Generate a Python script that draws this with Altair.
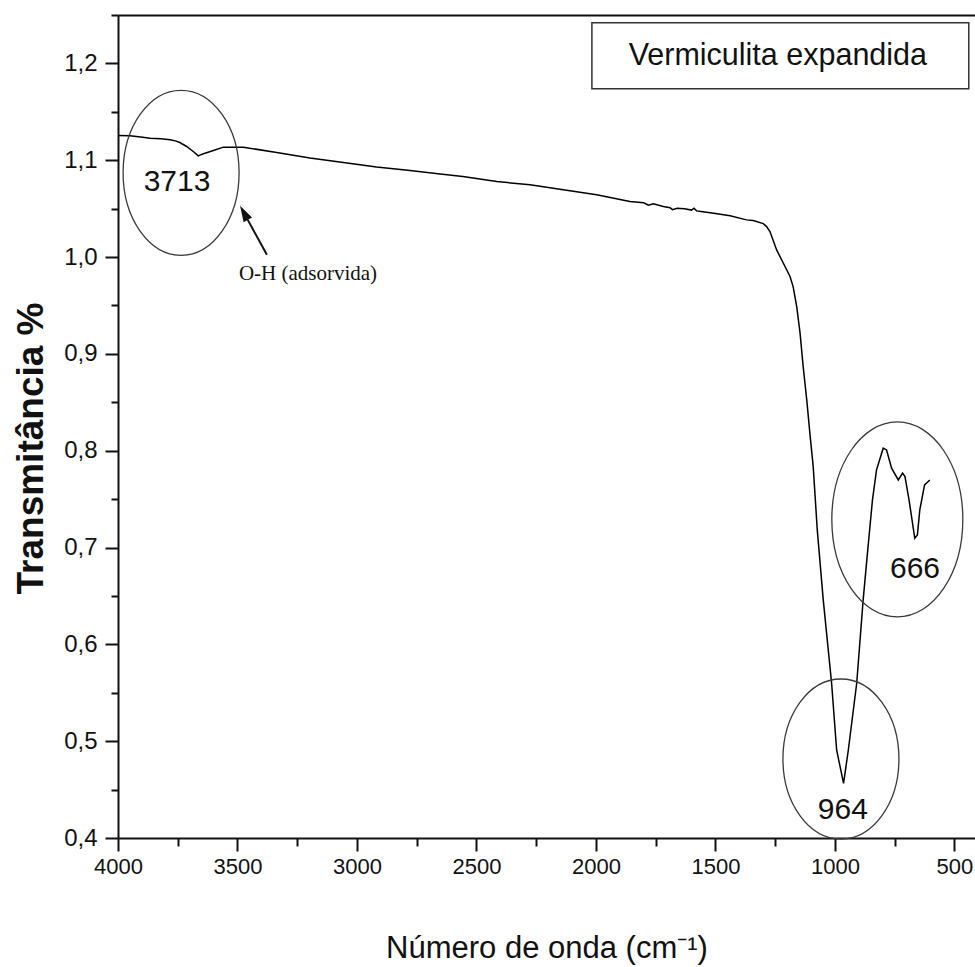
import altair as alt
import pandas as pd

# FTIR spectrum of expanded vermiculite (wavenumber in cm-1, transmittance)
wavenumber = [
    4000, 3950, 3905, 3866, 3820, 3782, 3760, 3741, 3713, 3685, 3664, 3650,
    3636, 3620, 3601, 3559, 3476, 3336, 3197, 3057, 2918, 2778, 2661, 2557,
    2415, 2276, 2137, 1997, 1858, 1800, 1780, 1760, 1718, 1690, 1680, 1660,
    1630, 1600, 1590, 1579, 1560, 1530, 1500, 1439, 1370, 1342, 1300, 1286,
    1272, 1244, 1188, 1175, 1160, 1146, 1133, 1118, 1105, 1091, 1074, 1049,
    1014, 993, 964, 944, 909, 882, 862, 843, 826, 798, 784, 763, 735, 717,
    707, 690, 666, 655, 645, 625, 603,
]
transmittance = [
    1.1255, 1.1252, 1.1240, 1.1228, 1.1222, 1.1211, 1.1200, 1.1183, 1.1142,
    1.1090, 1.1045, 1.1060, 1.1073, 1.1085, 1.1100, 1.1135, 1.1135, 1.1080,
    1.1022, 1.0976, 1.0929, 1.0894, 1.0860, 1.0832, 1.0780, 1.0746, 1.0694,
    1.0643, 1.0573, 1.0560, 1.0535, 1.0550, 1.0522, 1.0510, 1.0490, 1.0505,
    1.0500, 1.0485, 1.0505, 1.0477, 1.0470, 1.0460, 1.0450, 1.0426, 1.0384,
    1.0377, 1.0345, 1.0315, 1.0263, 1.0074, 0.9799, 0.9695, 0.9489, 0.9214,
    0.8869, 0.8525, 0.8181, 0.7836, 0.7182, 0.6459, 0.5598, 0.4909, 0.4565,
    0.4909, 0.5598, 0.6459, 0.6996, 0.7492, 0.7802, 0.8026, 0.8008, 0.7819,
    0.7698, 0.7768, 0.7732, 0.7492, 0.7096, 0.7130, 0.7388, 0.7647, 0.7698,
]

# Band labels and the ellipses drawn around them
band_labels = ["3713", "964", "666"]
band_label_x = [3753, 967, 665]
band_label_y = [1.0777, 0.4289, 0.6779]
ellipse_x = [3736, 975, 739]
ellipse_y = [1.087, 0.4816, 0.729]
ellipse_rx = [58, 58, 65.5]
ellipse_ry = [82.5, 80, 97.5]

# O-H note with arrow
note_text = "O-H (adsorvida)"
note_x, note_y = 3205, 0.9826
arrow_tail = (3377, 1.0023)
arrow_base = (3457, 1.0384)
arrow_head = (3473, 1.0457)

# Sample name box
sample_name = "Vermiculita expandida"
box_x = (2017, 440)
box_y = (1.1738, 1.242)
box_text = (1239, 1.2079)

x_major = [4000, 3500, 3000, 2500, 2000, 1500, 1000, 500]
x_minor = [3750, 3250, 2750, 2250, 1750, 1250, 750]
y_major = [0.4, 0.5, 0.6, 0.7, 0.8, 0.9, 1.0, 1.1, 1.2]
y_minor = [0.45, 0.55, 0.65, 0.75, 0.85, 0.95, 1.05, 1.15, 1.25]

X_DOMAIN = [4000, 414]
Y_DOMAIN = [0.4, 1.25]
SANS = "Liberation Sans, Arial"
SERIF = "Liberation Serif, Times New Roman"
INK = "#111111"

xs = alt.Scale(domain=X_DOMAIN, nice=False, zero=False)
ys = alt.Scale(domain=Y_DOMAIN, nice=False, zero=False)

spec = pd.DataFrame({"w": wavenumber, "t": transmittance})

x_axis = alt.Axis(
    values=x_major, format="d", title="Número de onda (cm⁻¹)",
    labelFont=SANS, labelFontSize=22, labelColor=INK, labelPadding=5,
    labelFlush=False, labelOverlap=False,
    titleFont=SANS, titleFontSize=31, titleFontWeight="normal", titleColor=INK,
    titleBaseline="alphabetic", titleY=119,
    tickSize=13, tickWidth=2, tickColor=INK, domainWidth=2, domainColor=INK,
    grid=False,
)
y_axis = alt.Axis(
    values=y_major, title="Transmitância %",
    labelExpr="replace(format(datum.value, '.1f'), '.', ',')",
    labelFont=SANS, labelFontSize=24, labelColor=INK, labelPadding=8,
    labelFlush=False, labelOverlap=False,
    titleFont=SANS, titleFontSize=37, titleFontWeight="bold", titleColor=INK,
    titleAngle=270, titleAlign="center", titleBaseline="alphabetic",
    titleX=-76, titleY=433,
    tickSize=13, tickWidth=2, tickColor=INK, domainWidth=2, domainColor=INK,
    grid=False,
)

line = alt.Chart(spec).mark_line(color="black", strokeWidth=1.5).encode(
    x=alt.X("w:Q", scale=xs, axis=x_axis),
    y=alt.Y("t:Q", scale=ys, axis=y_axis),
)

# Minor ticks on both axes, plus the top frame line
minor_df = pd.DataFrame({"w": [X_DOMAIN[0]], "t": [Y_DOMAIN[0]]})
minor = alt.Chart(minor_df).mark_point(opacity=0).encode(
    x=alt.X("w:Q", scale=xs, axis=alt.Axis(
        orient="bottom", values=x_minor, labels=False, title=None, domain=False,
        tickSize=8, tickWidth=2, tickColor=INK, grid=False)),
    y=alt.Y("t:Q", scale=ys, axis=alt.Axis(
        orient="left", values=y_minor, labels=False, title=None, domain=False,
        tickSize=7, tickWidth=2, tickColor=INK, grid=False)),
)
top_frame = alt.Chart(minor_df).mark_point(opacity=0).encode(
    x=alt.X("w:Q", scale=xs, axis=alt.Axis(
        orient="top", labels=False, ticks=False, title=None, domainWidth=2,
        domainColor=INK, grid=False)),
    y=alt.Y("t:Q", scale=ys, axis=None),
)


def ellipse_path(r):
    k = 0.5523
    a = r
    return (
        f"M {a} 0 C {a} {k} {a*k:.4f} 1 0 1 C {-a*k:.4f} 1 {-a} {k} {-a} 0 "
        f"C {-a} {-k} {-a*k:.4f} -1 0 -1 C {a*k:.4f} -1 {a} {-k} {a} 0 Z"
    )


layers = [line, minor, top_frame]

for cx, cy, rx, ry in zip(ellipse_x, ellipse_y, ellipse_rx, ellipse_ry):
    edf = pd.DataFrame({"w": [cx], "t": [cy]})
    layers.append(
        alt.Chart(edf).mark_point(
            shape=ellipse_path(rx / ry), size=(2 * ry) ** 2, filled=False,
            stroke="#3a3a3a", strokeWidth=1.3, opacity=1,
        ).encode(
            x=alt.X("w:Q", scale=xs, axis=None),
            y=alt.Y("t:Q", scale=ys, axis=None),
        )
    )

band_df = pd.DataFrame({"w": band_label_x, "t": band_label_y, "label": band_labels})
layers.append(
    alt.Chart(band_df).mark_text(
        font=SANS, fontSize=30, color=INK, align="center", baseline="middle"
    ).encode(
        x=alt.X("w:Q", scale=xs, axis=None),
        y=alt.Y("t:Q", scale=ys, axis=None),
        text="label:N",
    )
)

arrow_df = pd.DataFrame({
    "w": [arrow_tail[0]], "t": [arrow_tail[1]],
    "w2": [arrow_base[0]], "t2": [arrow_base[1]],
})
layers.append(
    alt.Chart(arrow_df).mark_rule(color=INK, strokeWidth=2).encode(
        x=alt.X("w:Q", scale=xs, axis=None),
        y=alt.Y("t:Q", scale=ys, axis=None),
        x2="w2:Q", y2="t2:Q",
    )
)
head_df = pd.DataFrame({"w": [arrow_head[0]], "t": [arrow_head[1]]})
layers.append(
    alt.Chart(head_df).mark_point(
        shape="M 0 -1 L 0.6 1 L -0.6 1 Z", size=256, filled=True,
        color=INK, opacity=1, angle=331,
    ).encode(
        x=alt.X("w:Q", scale=xs, axis=None),
        y=alt.Y("t:Q", scale=ys, axis=None),
    )
)

note_df = pd.DataFrame({"w": [note_x], "t": [note_y], "label": [note_text]})
layers.append(
    alt.Chart(note_df).mark_text(
        font=SERIF, fontSize=21, color=INK, align="center", baseline="middle"
    ).encode(
        x=alt.X("w:Q", scale=xs, axis=None),
        y=alt.Y("t:Q", scale=ys, axis=None),
        text="label:N",
    )
)

box_df = pd.DataFrame({
    "w": [box_x[0]], "w2": [box_x[1]], "t": [box_y[0]], "t2": [box_y[1]],
})
layers.append(
    alt.Chart(box_df).mark_rect(fill="white", stroke="#333333", strokeWidth=1.5).encode(
        x=alt.X("w:Q", scale=xs, axis=None),
        y=alt.Y("t:Q", scale=ys, axis=None),
        x2="w2:Q", y2="t2:Q",
    )
)
name_df = pd.DataFrame({"w": [box_text[0]], "t": [box_text[1]], "label": [sample_name]})
layers.append(
    alt.Chart(name_df).mark_text(
        font=SANS, fontSize=30.5, color=INK, align="center", baseline="middle"
    ).encode(
        x=alt.X("w:Q", scale=xs, axis=None),
        y=alt.Y("t:Q", scale=ys, axis=None),
        text="label:N",
    )
)

chart = (
    alt.layer(*layers)
    .resolve_axis(x="independent", y="independent")
    .properties(
        width=857, height=823,
        autosize=alt.AutoSizeParams(type="none"),
        padding={"left": 118, "top": 15, "right": 0, "bottom": 129},
        background="white",
    )
    .configure_view(stroke=None)
)

chart.save("out.html", embed_options={"renderer": "svg", "actions": False})
